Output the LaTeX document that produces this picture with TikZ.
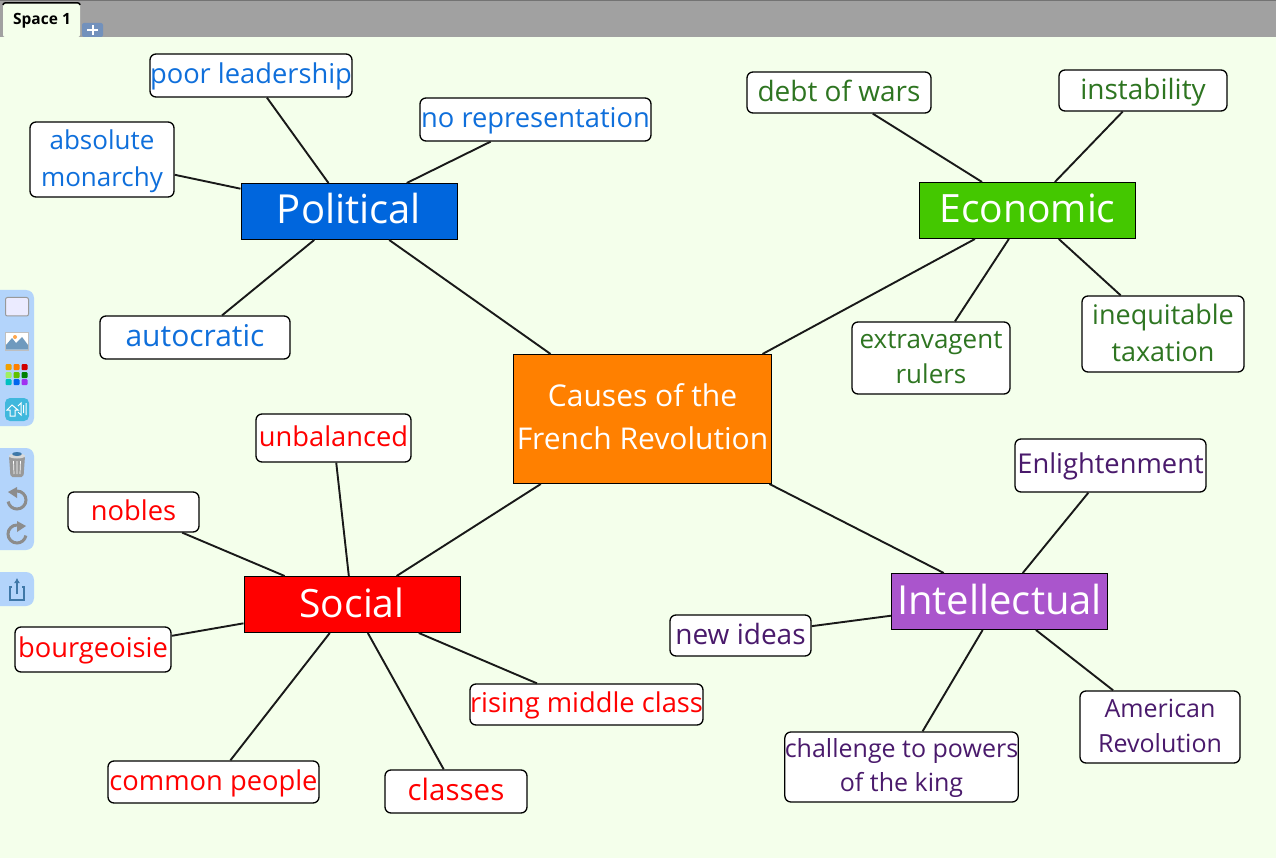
\documentclass[tikz,border=0pt]{standalone}
\usepackage{fontspec}
\setmainfont{Open Sans}
\usetikzlibrary{arrows.meta}
\definecolor{pagegreen}{HTML}{F4FFEB}
\definecolor{barblue}{HTML}{B3D4FB}
\definecolor{polblue}{HTML}{0066DD}
\definecolor{leafblue}{HTML}{0F6FDB}
\definecolor{ecogreen}{HTML}{44C800}
\definecolor{leafgreen}{HTML}{2E7521}
\definecolor{intpurple}{HTML}{AA55CC}
\definecolor{leafpurple}{HTML}{4A1A6C}
\definecolor{midorange}{HTML}{FF8000}
\definecolor{iconblue}{HTML}{3F78A8}
\definecolor{soundblue}{HTML}{40B8DD}
\definecolor{plusblue}{HTML}{7291BC}
\definecolor{palone}{HTML}{F0A000}
\definecolor{paltwo}{HTML}{FF7F00}
\definecolor{palthree}{HTML}{D00000}
\definecolor{palfour}{HTML}{A0F060}
\definecolor{palfive}{HTML}{60C000}
\definecolor{palsix}{HTML}{008000}
\definecolor{palseven}{HTML}{00C0C0}
\definecolor{paleight}{HTML}{0066EE}
\definecolor{palnine}{HTML}{A030F0}
\tikzset{
  leaf/.style={draw=black,fill=white,rounded corners=6pt,line width=1.3pt,align=center,
    inner sep=0pt,font=\fontsize{27.3}{37}\selectfont},
  oneline/.style={leaf,text height=22pt,text depth=5.5pt},
  bigline/.style={oneline,text depth=3.5pt},
  cause/.style={draw=black,line width=1pt,text=white,inner sep=0pt,align=center,
    text height=30pt,text depth=5pt,
    minimum width=216pt,minimum height=56pt,font=\fontsize{39}{44}\selectfont},
  link/.style={line width=1.9pt,black!90},
  panel/.style={fill=barblue,rounded corners=8pt},
  greyicon/.style={line width=3pt,draw=black!45}
}
\begin{document}
\begin{tikzpicture}[x=1pt,y=-1pt]
  \useasboundingbox (0,0) rectangle (1276,858);
  \fill [pagegreen] (0,0) rectangle (1276,858);
  % top bar
  \fill [black!37] (0,0) rectangle (1276,37);
  \fill [black!55] (0,0) rectangle (1276,1);
  \fill [pagegreen,rounded corners=2pt] (3,37) -- (3,3) -- (80,3) -- (80,37) -- cycle;
  \draw [line width=1.5pt,rounded corners=2pt] (3,5) -- (3,3) -- (80,3) -- (80,5);
  \node [font=\fontsize{15.5}{15}\selectfont\bfseries] (tabname) at (42,21) {Space 1};
  \fill [plusblue,rounded corners=2pt] (82,23) rectangle (103,37);
  \draw [white,line width=2pt] (87,30) -- (98,30) (92.5,25) -- (92.5,35);
  % side tools
  \fill [panel] (-10,290) rectangle (34,426);
  \fill [panel] (-10,448) rectangle (34,550);
  \fill [panel] (-10,572) rectangle (34,606);
  \fill [blue!8,draw=black!40,line width=1pt,rounded corners=2pt] (5.5,297.5) rectangle (28.5,316);
  \fill [white,draw=black!25] (5.5,332.5) rectangle (28.5,350);
  \fill [iconblue!75] (6,349.5) -- (6,345) -- (12,338) -- (16,343) -- (22,337) -- (28,345) -- (28,349.5) -- cycle;
  \fill [orange!70] (15,337) circle (2);
  \foreach \x/\y/\c in {8.5/367/palone,16.5/367/paltwo,24.5/367/palthree,
    8.5/375/palfour,16.5/375/palfive,24.5/375/palsix,
    8.5/382/palseven,16.5/382/paleight,24.5/382/palnine}
    \fill [\c,rounded corners=1pt] (\x-3,\y-3) rectangle (\x+3,\y+3);
  \fill [soundblue,rounded corners=5pt] (5,398) rectangle (29,421);
  \draw [white,line width=1pt] (7,410) -- (12,405) -- (18,410) -- (15,410) -- (15,416) -- (10,416) -- (10,410) -- cycle
    (18,406) -- (21,403) -- (21,415) -- (18,412) (23.5,405) -- (23.5,413) (26,403) -- (26,415);
  \fill [black!40,rounded corners=2pt] (9,456) -- (25,456) -- (23.5,477) -- (10.5,477) -- cycle;
  \fill [black!15] (17,456) ellipse (8 and 2.5);
  \fill [iconblue] (17,454) ellipse (5 and 2);
  \draw [white,line width=0.7pt] (13.5,461) -- (14,474) (17,461) -- (17,474) (20.5,461) -- (20,474);
  \draw [greyicon] (17,491) arc (-90:170:9);
  \fill [black!45] (17,487) -- (8,492) -- (17,498) -- cycle;
  \draw [greyicon] (17,525) arc (-90:-350:9);
  \fill [black!45] (17,521) -- (26,526) -- (17,532) -- cycle;
  \draw [iconblue,line width=1.5pt] (12,587) -- (10,587) -- (10,600) -- (24,600) -- (24,587) -- (22,587);
  \draw [iconblue,line width=1.5pt,-{Latex[length=5pt,width=6pt]}] (17,594) -- (17,578);
  % middle and causes
  \node [draw=black,line width=1pt,fill=midorange,text=white,align=center,inner sep=0pt,
    minimum width=258pt,minimum height=129pt,font=\fontsize{30}{43}\selectfont] (french) at (642.5,419) {Causes of the\\French Revolution\rule[-4pt]{0pt}{0pt}};
  \node [cause,fill=polblue,font=\fontsize{40}{44}\selectfont] (political) at (349,211.5) {Political};
  \node [cause,fill=ecogreen] (economic) at (1027.5,210.5) {Economic};
  \node [cause,fill=red] (social) at (352,604.5) {Social};
  \node [cause,fill=intpurple,font=\fontsize{40}{44}\selectfont] (intellectual) at (999.5,601.5) {Intellectual};
  % political
  \node [oneline,text=leafblue,minimum width=202pt,minimum height=43pt] (poor) at (251,75.5) {poor leadership};
  \node [oneline,text=leafblue,minimum width=231pt,minimum height=43pt] (norep) at (535.5,119.5) {no representation};
  \node [leaf,text=leafblue,minimum width=144pt,minimum height=75pt,
    font=\fontsize{26}{37}\selectfont] (absolute) at (102,159.5) {\rule{0pt}{22.5pt}absolute\\monarchy};
  \node [bigline,text=leafblue,minimum width=190pt,minimum height=43pt,
    font=\fontsize{30}{37}\selectfont] (autocratic) at (195,337.5) {autocratic};
  % economic
  \node [bigline,text=leafgreen,minimum width=184pt,minimum height=41pt,
    font=\fontsize{28}{37}\selectfont] (debt) at (839,92.5) {debt of wars};
  \node [bigline,text=leafgreen,minimum width=168pt,minimum height=41pt,
    font=\fontsize{28}{37}\selectfont] (instability) at (1143,90.5) {instability};
  \node [leaf,text=leafgreen,minimum width=158pt,minimum height=72pt,
    font=\fontsize{26}{35}\selectfont] (extravagent) at (931,358) {extravagent\\rulers};
  \node [leaf,text=leafgreen,minimum width=162pt,minimum height=76pt,
    font=\fontsize{27}{37}\selectfont] (inequitable) at (1163,334) {inequitable\\taxation\rule[-3pt]{0pt}{0pt}};
  % social
  \node [oneline,text=red,minimum width=155pt,minimum height=48pt] (unbalanced) at (333.5,438) {unbalanced};
  \node [oneline,text=red,minimum width=131pt,minimum height=40pt] (nobles) at (133.5,512) {nobles};
  \node [oneline,text=red,minimum width=156pt,minimum height=45pt] (bourgeoisie) at (93,649.5) {bourgeoisie};
  \node [oneline,text=red,minimum width=233pt,minimum height=41pt] (rising) at (586.5,704.5) {rising middle class};
  \node [oneline,text=red,minimum width=211pt,minimum height=42pt] (common) at (213.5,782) {common people};
  \node [bigline,text=red,minimum width=142pt,minimum height=43pt,
    font=\fontsize{29.5}{37}\selectfont] (classes) at (456,791.5) {classes};
  % intellectual
  \node [oneline,text=leafpurple,minimum width=191pt,minimum height=53pt] (enlight) at (1110.5,465.5) {Enlightenment};
  \node [bigline,text=leafpurple,minimum width=141pt,minimum height=41pt,
    font=\fontsize{28}{37}\selectfont] (newideas) at (740.5,635.5) {new ideas};
  \node [leaf,text=leafpurple,minimum width=233pt,minimum height=70pt,
    font=\fontsize{25}{34}\selectfont] (challenge) at (901.5,767) {\rule{0pt}{20.5pt}challenge to powers\\of the king};
  \node [leaf,text=leafpurple,minimum width=160pt,minimum height=72pt,
    font=\fontsize{25}{35}\selectfont] (american) at (1160,727) {American\\Revolution\rule[-2pt]{0pt}{0pt}};
  % connectors
  \foreach \a/\b in {french/political,french/economic,french/social,french/intellectual,
    political/poor,political/norep,political/absolute,political/autocratic,
    economic/debt,economic/instability,economic/extravagent,economic/inequitable,
    social/unbalanced,social/nobles,social/bourgeoisie,social/rising,social/common,social/classes,
    intellectual/enlight,intellectual/newideas,intellectual/challenge,intellectual/american}
    \draw [link] (\a) -- (\b);
\end{tikzpicture}
\end{document}
